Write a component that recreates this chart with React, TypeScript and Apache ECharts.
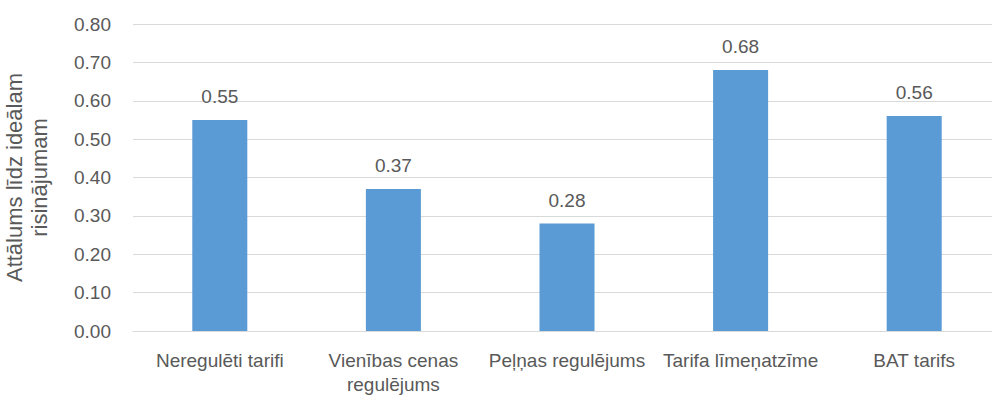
import React, { useEffect, useRef } from "react";
import * as echarts from "echarts";

const categories = [
  "Neregulēti tarifi",
  "Vienības cenas\nregulējums",
  "Peļņas regulējums",
  "Tarifa līmeņatzīme",
  "BAT tarifs",
];
const distances = [0.55, 0.37, 0.28, 0.68, 0.56];
const yMin = 0;
const yMax = 0.8;
const yStep = 0.1;
const yAxisTitle = "Attālums līdz ideālam\nrisinājumam";

const FONT = "'Liberation Sans', Arial, sans-serif";
const TEXT = "#595959";

export default function App() {
  const ref = useRef<HTMLDivElement>(null);

  useEffect(() => {
    document.body.style.margin = "0";
    if (!ref.current) return;
    const chart = echarts.init(ref.current, undefined, { renderer: "svg" });
    chart.setOption({
      animation: false,
      backgroundColor: "#ffffff",
      textStyle: { fontFamily: FONT },
      // plot area runs slightly past the right edge of the canvas
      grid: {
        left: 133,
        right: -9,
        top: 24,
        bottom: 67,
        containLabel: false,
        outerBoundsMode: "none",
      },
      xAxis: {
        type: "category",
        data: categories,
        axisLine: { show: true, lineStyle: { color: "#d9d9d9", width: 1 } },
        axisTick: { show: false },
        axisLabel: {
          color: TEXT,
          fontSize: 19,
          fontFamily: FONT,
          margin: 17,
          lineHeight: 24,
          interval: 0,
        },
      },
      yAxis: {
        type: "value",
        min: yMin,
        max: yMax,
        interval: yStep,
        name: yAxisTitle,
        nameLocation: "middle",
        nameRotate: 90,
        nameGap: 81,
        nameTextStyle: {
          color: TEXT,
          fontSize: 22,
          fontFamily: FONT,
          lineHeight: 25,
          align: "center",
        },
        axisLine: { show: false },
        axisTick: { show: false },
        splitLine: { lineStyle: { color: "#d9d9d9", width: 1 } },
        axisLabel: {
          color: TEXT,
          fontSize: 19,
          fontFamily: FONT,
          margin: 22,
          formatter: (v: number) => v.toFixed(2),
        },
      },
      series: [
        {
          type: "bar",
          data: distances,
          barWidth: "31.7%",
          itemStyle: { color: "#5b9bd5" },
          label: {
            show: true,
            position: "top",
            distance: 14,
            color: TEXT,
            fontSize: 19,
            fontFamily: FONT,
            formatter: (p: any) => Number(p.value).toFixed(2),
          },
        },
      ],
    });
    return () => chart.dispose();
  }, []);

  return <div ref={ref} style={{ width: 992, height: 398 }} />;
}
